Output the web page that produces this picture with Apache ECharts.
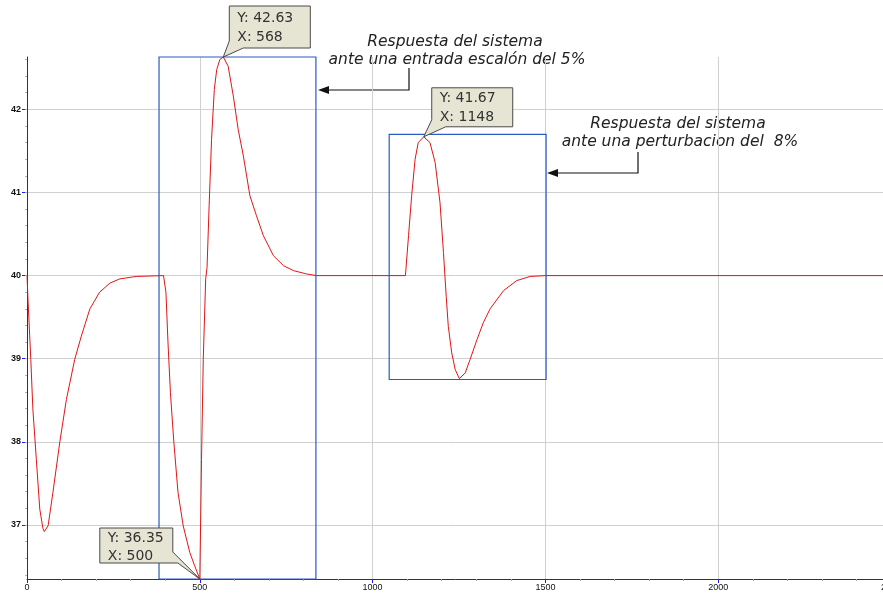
<!DOCTYPE html>
<html>
<head>
<meta charset="utf-8">
<script src="https://cdn.jsdelivr.net/npm/echarts@6/dist/echarts.min.js"></script>
<style>
html,body{margin:0;padding:0;background:#fff;}
#chart{width:883px;height:593px;}
</style>
</head>
<body>
<div id="chart"></div>
<script>
// ---- data ----
const xValues = [0,3,11,17,27,37,46,50,61,75,95,114,138,157,182,210,240,268,316,395,
  402,408,415,425,437,452,471,485,500,505,510,517,521,527,534,542,549,558,568,582,597,611,626,645,664,684,713,742,771,809,838,
  1095,1104,1113,1123,1132,1148,1166,1181,1195,1205,1213,1219,1229,1239,1251,1255,1268,1282,1302,1321,1340,1379,1417,1456,1500,2500];
const yValues = [40.00,39.70,38.99,38.39,37.79,37.19,36.96,36.92,36.99,37.39,38.00,38.51,38.99,39.27,39.60,39.80,39.91,39.96,39.99,40.00,
  39.80,39.19,38.59,37.99,37.39,36.99,36.67,36.51,36.35,37.79,38.99,39.96,40.10,40.84,41.64,42.24,42.48,42.60,42.63,42.52,42.16,41.76,41.44,40.96,40.72,40.48,40.24,40.12,40.06,40.02,40.00,
  40.00,40.48,40.96,41.40,41.60,41.67,41.60,41.36,40.88,40.28,39.75,39.39,39.07,38.87,38.76,38.75,38.83,38.99,39.23,39.44,39.60,39.82,39.94,39.99,40.00,40.00];

const yTickValues = [37,38,39,40,41,42];
const xTickLabels = [0,500,1000,1500,2000,2500];
const yMin = 36.35, yMax = 42.63;
const xMin = 0, xMax = 2500;

// highlighted regions: [x0, y0, x1, y1]
const box1 = [382, 36.35, 836, 42.63];
const box2 = [1048, 38.75, 1502, 41.70];

// data tips
const tipX = [500, 568, 1148];
const tipY = [36.35, 42.63, 41.67];

// annotation texts
const note1 = ['Respuesta del sistema', 'ante una entrada escalón del 5%'];
const note2 = ['Respuesta del sistema', 'ante una perturbacion del  8%'];

// ---- layout/styles ----
const tipLayout = [
  {dx:-100, dy:-51, w:73, h:35, side:'right', t1:10, t2:28},
  {dx:6, dy:-51, w:81, h:42, side:'left', t1:12, t2:31},
  {dx:8, dy:-49, w:81, h:39, side:'left', t1:11, t2:30}
];

const yMinor = [];
for (let v = 36.4; v < yMax; v += 0.2) yMinor.push(Math.round(v*100)/100);

const seriesData = xValues.map((x, i) => [x, yValues[i]]);
const tipData = tipX.map((x, i) => [x, tipY[i]]);

const chart = echarts.init(document.getElementById('chart'), null, {renderer:'canvas'});

const axisFont = {fontSize:9, fontFamily:'"Liberation Sans", Arial, sans-serif', color:'#111'};

const option = {
  animation:false,
  backgroundColor:'#fff',
  grid:{left:27, right:-8, top:57, bottom:14, containLabel:false, outerBoundsMode:'none'},
  xAxis:{
    type:'value', min:xMin, max:xMax, interval:500,
    axisLine:{show:true, onZero:false, lineStyle:{color:'#1a1aff', width:1}},
    axisTick:{show:true, length:4, lineStyle:{color:'#1a1aff'}},
    minorTick:{show:true, splitNumber:5, length:2, lineStyle:{color:'#b0b0b0'}},
    axisLabel:Object.assign({margin:4, showMaxLabel:true, hideOverlap:false, formatter:v=>String(v)}, axisFont),
    splitLine:{show:true, lineStyle:{color:'#d0d0d0', width:1}}
  },
  yAxis:[{
    type:'value', min:yMin, max:yMax,
    axisLine:{show:true, onZero:false, lineStyle:{color:'#1a1aff', width:1}},
    axisTick:{show:true, customValues:yTickValues, length:5, lineStyle:{color:'#1a1aff'}},
    axisLabel:Object.assign({customValues:yTickValues, margin:6, fontWeight:'bold'}, axisFont),
    splitLine:{show:true, lineStyle:{color:'#d0d0d0', width:1}}
  },{
    type:'value', min:yMin, max:yMax, position:'left', offset:0,
    axisLine:{show:false},
    axisTick:{show:true, customValues:yMinor, length:2, lineStyle:{color:'#b0b0b0'}},
    axisLabel:{show:false},
    splitLine:{show:false}
  }],
  series:[{
    type:'line',
    data:seriesData,
    showSymbol:false,
    symbol:'none',
    lineStyle:{color:'#e31414', width:1},
    z:3,
    markArea:{
      silent:true,
      itemStyle:{color:'rgba(0,0,0,0)', borderColor:'#2b5bc4', borderWidth:1.2},
      data:[
        [{coord:[box1[0], box1[1]]},{coord:[box1[2], box1[3]]}],
        [{coord:[box2[0], box2[1]]},{coord:[box2[2], box2[3]]}]
      ]
    }
  },{
    type:'custom',
    data:tipData,
    clip:false,
    z:10,
    renderItem:function(params, api){
      const i = params.dataIndex;
      const p = api.coord([api.value(0), api.value(1)]);
      const L = tipLayout[i];
      const bx = p[0]+L.dx, by = p[1]+L.dy, w = L.w, h = L.h;
      let pts;
      if (L.side === 'left') {
        pts = [p, [bx, by+h-7], [bx, by], [bx+w, by], [bx+w, by+h], [bx+14, by+h]];
      } else {
        pts = [p, [bx+w+5, by+h], [bx, by+h], [bx, by], [bx+w, by], [bx+w, by+h-11]];
      }
      const font = '14px "DejaVu Sans", sans-serif';
      return {
        type:'group',
        children:[
          {type:'polygon', shape:{points:pts}, style:{fill:'#e6e5d3', stroke:'#4a4a4a', lineWidth:1}},
          {type:'text', style:{text:'Y: ' + api.value(1).toFixed(2), x:bx+8, y:by+L.t1, font:font, fill:'#333', align:'left', verticalAlign:'middle'}},
          {type:'text', style:{text:'X: ' + api.value(0), x:bx+8, y:by+L.t2, font:font, fill:'#333', align:'left', verticalAlign:'middle'}}
        ]
      };
    }
  }],
  graphic:[
    {type:'text', x:455, y:42, style:{text:note1[0], font:'italic 15.5px "DejaVu Sans", sans-serif', fill:'#222', align:'center', verticalAlign:'middle', textAlign:'center', textVerticalAlign:'middle'}},
    {type:'text', x:457, y:60, style:{text:note1[1], font:'italic 15.5px "DejaVu Sans", sans-serif', fill:'#222', align:'center', verticalAlign:'middle', textAlign:'center', textVerticalAlign:'middle'}},
    {type:'polyline', shape:{points:[[409,68],[409,90],[328,90]]}, style:{stroke:'#111', lineWidth:1.2, fill:null}},
    {type:'polygon', shape:{points:[[318,90],[329,86],[329,94]]}, style:{fill:'#111'}},
    {type:'text', x:678, y:124, style:{text:note2[0], font:'italic 15.5px "DejaVu Sans", sans-serif', fill:'#222', align:'center', verticalAlign:'middle', textAlign:'center', textVerticalAlign:'middle'}},
    {type:'text', x:680, y:142, style:{text:note2[1], font:'italic 15.5px "DejaVu Sans", sans-serif', fill:'#222', align:'center', verticalAlign:'middle', textAlign:'center', textVerticalAlign:'middle'}},
    {type:'polyline', shape:{points:[[638,152],[638,173],[557,173]]}, style:{stroke:'#111', lineWidth:1.2, fill:null}},
    {type:'polygon', shape:{points:[[547,173],[558,169],[558,177]]}, style:{fill:'#111'}}
  ]
};
chart.setOption(option);
</script>
</body>
</html>
